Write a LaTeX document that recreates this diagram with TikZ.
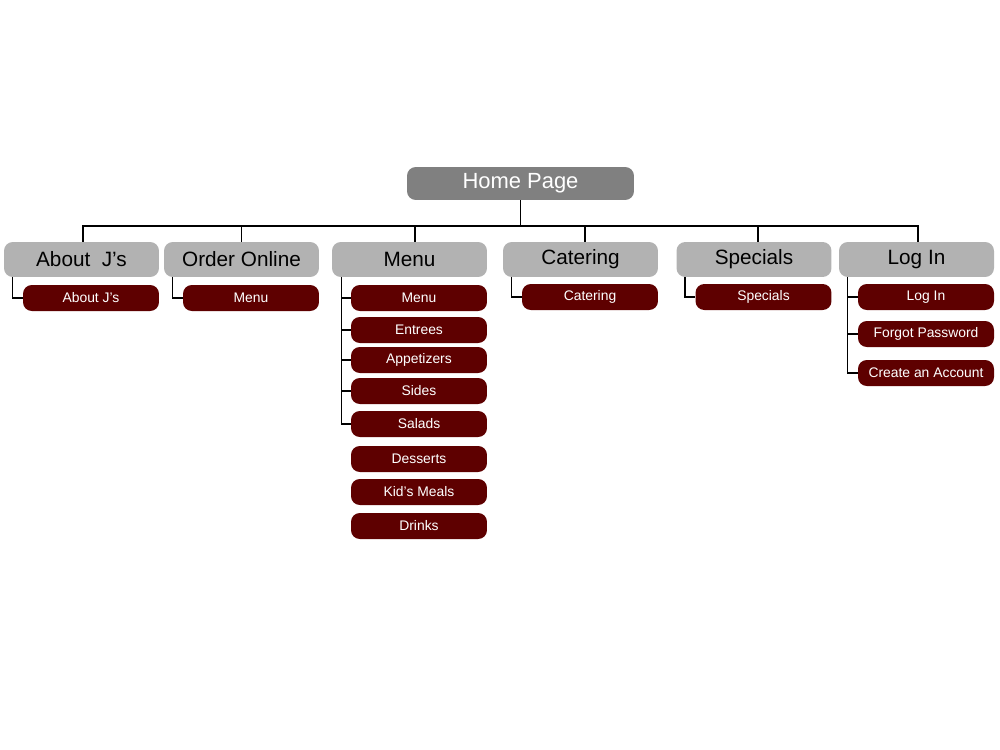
\documentclass[tikz,border=0pt]{standalone}
\usepackage{fontspec}
\setmainfont{Liberation Sans}
\usetikzlibrary{calc}
\definecolor{HomeGray}{HTML}{808080}
\definecolor{TabGray}{HTML}{B2B2B2}
\definecolor{Maroon}{HTML}{5E0000}

\begin{document}
\begin{tikzpicture}[x=0.02cm,y=-0.02cm,
        home/.style={fill=HomeGray,rounded corners=5pt,minimum width=4.54cm,minimum height=0.66cm,
          inner sep=0pt,text=white,font=\fontsize{12.5}{14}\selectfont},
        tab/.style={fill=TabGray,rounded corners=5pt,minimum width=3.1cm,minimum height=0.7cm,
          inner sep=0pt,font=\fontsize{11.8}{14}\selectfont},
        page/.style={fill=Maroon,rounded corners=5pt,minimum width=2.72cm,minimum height=0.52cm,
          inner sep=0pt,text=white,font=\fontsize{7.9}{9}\selectfont},
        link/.style={draw=black,line width=0.9pt}]
        \useasboundingbox (0,0) rectangle (1000,750);
        \node[home] (home) at (520.5,183.5) {Home Page};
        \coordinate (bus) at (520.5,226);
        % top level
        \node[tab] (about) at (81.5,259.5) {About\ \ J’s};
        \node[tab] (order) at (241.5,259.5) {Order Online};
        \node[tab] (menu) at (409.5,259.5) {Menu};
        \node[tab] (cater) at (580.5,259.5) {Catering};
        \node[tab] (special) at (754,259.5) {Specials};
        \node[tab] (login) at (916.5,259.5) {Log In};
        % pages
        \node[page] (aboutpg) at (91,298) {About J’s};
        \node[page] (orderpg) at (251,298) {Menu};
        \node[page] (menupg) at (419,298) {Menu};
        \node[page] (entrees) at (419,330) {Entrees};
        \node[page] (apps) at (419,360) {Appetizers};
        \node[page] (sides) at (419,391) {Sides};
        \node[page] (salads) at (419,424) {Salads};
        \node[page] (desserts) at (419,459) {Desserts};
        \node[page] (kids) at (419,492) {Kid’s Meals};
        \node[page] (drinks) at (419,526) {Drinks};
        \node[page] (caterpg) at (590,297) {Catering};
        \node[page] (specialpg) at (763.5,297) {Specials};
        \node[page] (loginpg) at (926,297) {Log In};
        \node[page] (forgot) at (926,334) {Forgot Password};
        \node[page] (create) at (926,373) {Create an Account};
        % connectors
        \draw[link] (home.south) -- (bus);
        \draw[link] ([xshift=0.03cm]about.north) |- (bus);
        \draw[link] (order.north) |- (bus);
        \draw[link] ([xshift=0.11cm]menu.north) |- (bus);
        \draw[link] ([xshift=0.09cm]cater.north) |- (bus);
        \draw[link] ([xshift=0.08cm]special.north) |- (bus);
        \draw[link] ([xshift=0.03cm]login.north) |- (bus);
        \draw[link] ([xshift=0.18cm]about.south west) |- (aboutpg.west);
        \draw[link] ([xshift=0.18cm]order.south west) |- (orderpg.west);
        \draw[link] ([xshift=0.2cm]menu.south west) |- (salads.west);
        \draw[link] ([xshift=0.2cm]menu.south west) |- (menupg.west);
        \draw[link] ([xshift=0.2cm]menu.south west) |- (entrees.west);
        \draw[link] ([xshift=0.2cm]menu.south west) |- (apps.west);
        \draw[link] ([xshift=0.2cm]menu.south west) |- (sides.west);
        \draw[link] ([xshift=0.18cm]cater.south west) |- (caterpg.west);
        \draw[link] ([xshift=0.18cm]special.south west) |- (specialpg.west);
        \draw[link] ([xshift=0.18cm]login.south west) |- (create.west);
        \draw[link] ([xshift=0.18cm]login.south west) |- (loginpg.west);
        \draw[link] ([xshift=0.18cm]login.south west) |- (forgot.west);
      \end{tikzpicture}
\end{document}
